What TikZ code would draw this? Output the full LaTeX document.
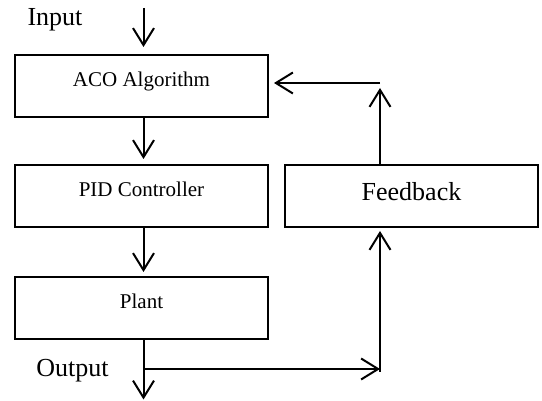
\documentclass[tikz,border=0pt]{standalone}
\usepackage{fontspec}
\setmainfont{Liberation Serif}
\usetikzlibrary{arrows.meta}
\begin{document}
\begin{tikzpicture}[x=1pt,y=-1pt,
  box/.style={draw, line width=2pt, minimum width=253pt, minimum height=62pt, inner sep=0pt,
    font=\fontsize{21}{21}\selectfont, text height=10pt, text depth=8pt},
  fbbox/.style={box, font=\fontsize{26}{26}\selectfont, text height=14pt, text depth=4pt},
  arr/.style={line width=2pt, -{Straight Barb[length=17pt,width=21pt]}},
  lbl/.style={font=\fontsize{26}{26}\selectfont, anchor=base, inner sep=0pt}]
\useasboundingbox (0,0) rectangle (542,401);
% boxes
\node[box] (aco) at (141.5,86) {ACO Algorithm};
\node[box] (pid) at (141.5,196) {PID Controller};
\node[box] (plant) at (141.5,308) {Plant};
\node[fbbox] (fb) at (411.5,196) {Feedback};
% labels
\node[lbl] (inlbl) at (55,26) {Input};
\node[lbl] (outlbl) at (72.5,377) {Output};
% coordinates
\coordinate (in) at (143.5,8);
\coordinate (out) at (143.5,399.5);
\coordinate (junc) at (143.5,369);
\coordinate (br) at (380,369);
\coordinate (brup) at (380,372);
\coordinate (fbtip) at (380,88);
\coordinate (tr) at (380,83);
% connectors
\draw[arr, shorten >=7pt] (in) -- (aco.north -| in);
\draw[arr, shorten >=5pt] (aco.south -| in) -- (pid.north -| in);
\draw[arr, shorten >=4pt] (pid.south -| in) -- (plant.north -| in);
\draw[arr] (plant.south -| in) -- (out);
\draw[arr] (junc) -- (br);
\draw[arr, shorten >=3pt] (brup) -- (fb.south -| brup);
\draw[arr] (fb.north -| fbtip) -- (fbtip);
\draw[arr, shorten >=5pt] (tr) -- (aco.east |- tr);
\end{tikzpicture}
\end{document}
